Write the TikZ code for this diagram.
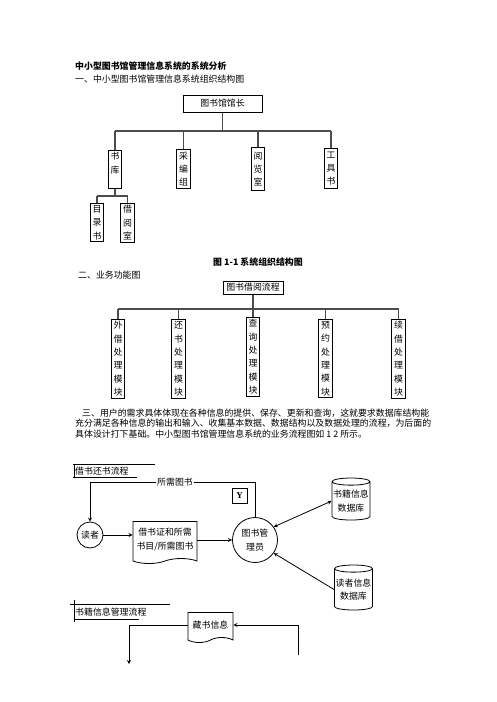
\documentclass[tikz,border=0pt]{standalone}
\usepackage{fontspec}
\setmainfont{Noto Sans CJK SC}
\newfontfamily\latinserif{Liberation Serif}
\usetikzlibrary{shapes,arrows,positioning}

\begin{document}
\begin{tikzpicture}[
  x=1pt, y=-1pt,
  font=\fontsize{8.9}{13.3}\selectfont,
  orgline/.style={draw=black!70, line width=1.4pt},
  hbox/.style={rectangle, draw, line width=1pt, inner sep=1.5pt},
  vbox/.style={rectangle, draw, line width=1pt, align=center, inner xsep=2.5pt, inner ysep=2pt, anchor=north},
  proc/.style={circle, draw, line width=0.8pt, inner sep=0pt, align=center},
  doc/.style={tape, draw, line width=0.8pt, tape bend top=none, tape bend bottom=in and out, align=center, inner sep=1pt},
  store/.style={cylinder, shape border rotate=90, draw, line width=0.8pt, aspect=0.2, align=center, inner sep=0pt},
  flow/.style={line width=0.8pt},
  >=stealth
]
\useasboundingbox (0,0) rectangle (496,702);

\node[anchor=west, inner sep=0pt, font=\fontsize{8.9}{10}\selectfont\bfseries] (title) at (75,66) {中小型图书馆管理信息系统的系统分析};
\node[anchor=west, inner sep=0pt] (sec1) at (75,79) {一、中小型图书馆管理信息系统组织结构图};

% organisation
\node[hbox, minimum width=79, minimum height=17] (head) at (222.5,103.5) {图书馆馆长};
\node[vbox, minimum height=38] (shuku) at (115,150) {书\\库\\~};
\node[vbox, minimum height=39] (caibian) at (183.5,149) {采\\编\\组};
\node[vbox, minimum height=43] (yuelan) at (258,147) {阅\\览\\室};
\node[vbox, minimum height=40] (gongju) at (331,148) {工\\具\\书};
\node[vbox, minimum height=35] (mulu) at (97,203) {目\\录\\书};
\node[vbox, minimum height=37] (jieyue) at (127.5,203) {借\\阅\\室};

\coordinate (bus1) at (0,131);
\coordinate (bus2) at (0,196);
\draw[orgline] (head.south) -- (head.south |- bus1);
\draw[orgline] (shuku.north |- bus1) -- (gongju.north |- bus1);
\draw[orgline] (shuku.north |- bus1) -- (shuku.north);
\draw[orgline] (caibian.north |- bus1) -- (caibian.north);
\draw[orgline] (yuelan.north |- bus1) -- (yuelan.north);
\draw[orgline] (gongju.north |- bus1) -- (gongju.north);
\draw[orgline] (shuku.south) -- (shuku.south |- bus2);
\draw[orgline] (mulu.north |- bus2) -- (jieyue.north |- bus2);
\draw[orgline] (mulu.north |- bus2) -- (mulu.north);
\draw[orgline] (jieyue.north |- bus2) -- (jieyue.north);

\node[font=\fontsize{8.9}{10}\selectfont\bfseries, inner sep=0pt] (cap1) at (258,262) {图 1-1 系统组织结构图};
\node[anchor=west, inner sep=0pt] (sec2) at (78,275) {二、业务功能图};

% functions
\node[hbox, minimum width=60, minimum height=13] (borrow) at (253,287.5) {图书借阅流程};
\node[vbox] (waijie) at (118,319) {外\\借\\处\\理\\模\\块};
\node[vbox] (huanshu) at (178.5,319) {还\\书\\处\\理\\模\\块};
\node[vbox] (chaxun) at (253,317) {查\\询\\处\\理\\模\\块};
\node[vbox] (yuyue) at (325.5,319) {预\\约\\处\\理\\模\\块};
\node[vbox] (xujie) at (398.5,319) {续\\借\\处\\理\\模\\块};

\coordinate (bus3) at (0,309);
\draw[orgline] (borrow.south) -- (borrow.south |- bus3);
\draw[orgline] (waijie.north |- bus3) -- (xujie.north |- bus3);
\draw[orgline] (waijie.north |- bus3) -- (waijie.north);
\draw[orgline] (huanshu.north |- bus3) -- (huanshu.north);
\draw[orgline] (chaxun.north |- bus3) -- (chaxun.north);
\draw[orgline] (yuyue.north |- bus3) -- (yuyue.north);
\draw[orgline] (xujie.north |- bus3) -- (xujie.north);

\node[anchor=west, align=left, inner sep=0pt, font=\fontsize{8.9}{10.6}\selectfont] (para) at (75,423.5) {\hspace{7pt}三、用户的需求具体体现在各种信息的提供、保存、更新和查询，这就要求数据库结构能\\充分满足各种信息的输出和输入、收集基本数据、数据结构以及数据处理的流程，为后面的\\具体设计打下基础。中小型图书馆管理信息系统的业务流程图如 1 2 所示。};

% lending flow
\node[anchor=west, inner xsep=1pt, inner ysep=2.5pt] (jhtitle) at (74,471) {借书还书流程};
\draw[flow] ([xshift=-1pt]jhtitle.north west) -- ++(82,0);
\draw[flow] (jhtitle.north west) -- (jhtitle.south west);
\draw[flow] ([xshift=-1pt]jhtitle.south west) -- ++(64,0);

\node[proc, minimum size=26] (reader) at (90,535) {读者};
\node[doc, minimum width=64, minimum height=42, font=\fontsize{8.9}{14}\selectfont] (card) at (165,540) {借书证和所需\\书目/所需图书};
\node[proc, minimum size=45] (keeper) at (255,540) {图书管\\理员};
\node[hbox, minimum size=15, font=\fontsize{9}{10}\latinserif\bfseries] (yes) at (239.5,495.5) {Y};
\node[store, minimum width=38, minimum height=42] (bookdb) at (351,501) {书籍信息\\数据库};
\node[store, minimum width=38, minimum height=45] (readerdb) at (353.5,589.5) {读者信息\\数据库};
\node[inner sep=1pt] (need) at (175,482) {所需图书};

\draw[flow] (need.east) -| (keeper.north);
\draw[flow, ->] (need.west) -| (reader.north);
\draw[flow, ->] (reader.east) -- (reader.east -| card.west);
\draw[flow, ->] (card.east) -- (keeper.west);
\draw[flow, <->] (keeper.35) -- (bookdb.west);
\draw[flow, ->] (readerdb.west) -- (keeper.-35);

% book info flow
\node[anchor=west, inner xsep=1pt, inner ysep=3.5pt] (sjtitle) at (74,612) {书籍信息管理流程};
\draw[flow] ([xshift=-4pt]sjtitle.north west) -- ++(100,0);
\draw[flow] ([yshift=4pt]sjtitle.north west) -- ([yshift=-2pt]sjtitle.south west);
\draw[flow] (sjtitle.south west) -- ++(65,0);

\node[doc, minimum width=45, minimum height=30] (holding) at (210.5,625) {藏书信息};
\coordinate (sjout) at (129,664);
\coordinate (sjin) at (298,655);
\draw[flow, ->] (holding.west) -| (sjout);
\draw[flow, ->] (sjin) |- (holding.east);

\end{tikzpicture}
\end{document}
